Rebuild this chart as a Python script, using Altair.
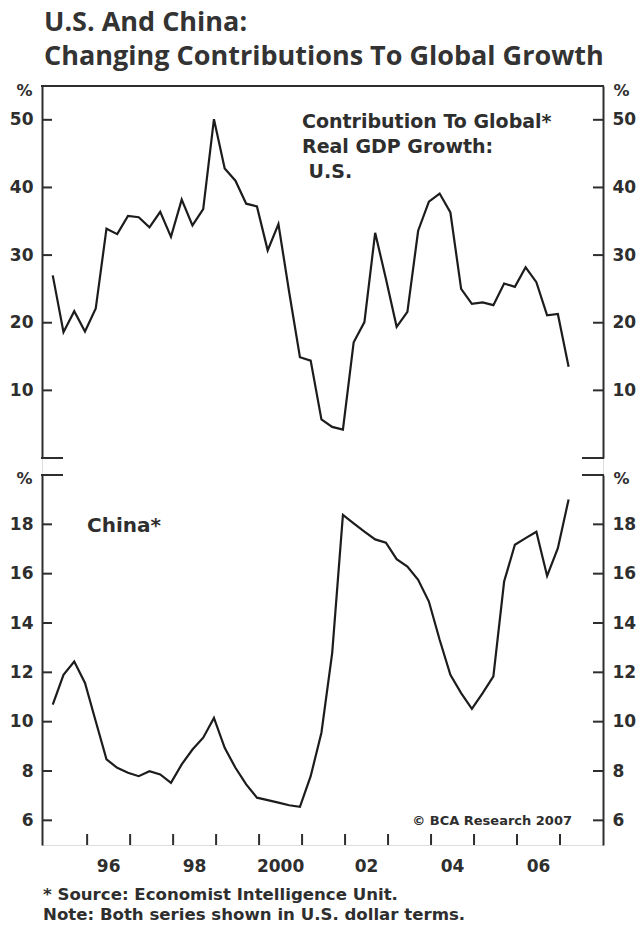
import altair as alt
import pandas as pd

# ---------------- data ----------------
quarters = [f"{y}Q{q}" for y in range(1995, 2008) for q in range(1, 5)][:49]

us_share = [
    27.0, 18.6, 21.7, 18.7,   # 1995
    22.1, 33.9, 33.1, 35.8,   # 1996
    35.6, 34.1, 36.4, 32.7,   # 1997
    38.2, 34.4, 36.8, 50.1,   # 1998
    42.8, 41.0, 37.6, 37.2,   # 1999
    30.7, 34.6, 24.5, 14.9,   # 2000
    14.4, 5.7, 4.6, 4.2,      # 2001
    17.1, 20.1, 33.3, 26.5,   # 2002
    19.4, 21.6, 33.6, 37.9,   # 2003
    39.1, 36.3, 25.0, 22.8,   # 2004
    23.0, 22.6, 25.8, 25.3,   # 2005
    28.2, 26.0, 21.1, 21.3,   # 2006
    13.5,                     # 2007
]

china_share = [
    10.69, 11.90, 12.44, 11.57,
    10.02, 8.47, 8.13, 7.93,
    7.79, 7.99, 7.86, 7.52,
    8.27, 8.87, 9.35, 10.15,
    8.94, 8.13, 7.46, 6.92,
    6.82, 6.72, 6.61, 6.55,
    7.79, 9.55, 12.78, 18.38,
    18.04, 17.70, 17.39, 17.26,
    16.59, 16.29, 15.75, 14.87,
    13.32, 11.90, 11.16, 10.52,
    11.16, 11.84, 15.68, 17.17,
    17.44, 17.70, 15.91, 17.03,
    19.01,
]

us_ticks = [10, 20, 30, 40, 50]
china_ticks = [6, 8, 10, 12, 14, 16, 18]
year_ticks = list(range(1996, 2008))
year_labels = [1996, 1998, 2000, 2002, 2004, 2006]
year_label_text = ["96", "98", "2000", "02", "04", "06"]

title_lines = ["U.S. And China:", "Changing Contributions To Global Growth"]
us_note = "Contribution To Global*\nReal GDP Growth:\n\u200b\u00a0U.S."
china_note = "China*"
copyright_note = "\u00a9 BCA Research 2007"
footnotes = "* Source: Economist Intelligence Unit.\nNote: Both series shown in U.S. dollar terms."


def qpos(q):
    y, n = q.split("Q")
    return int(y) + (int(n) - 1) * 0.25 + 0.2


df = pd.DataFrame({"t": [qpos(q) for q in quarters], "us": us_share, "china": china_share})

# ---------------- layout ----------------
W, H = 561, 759
TOP_H = 372
BOT_Y = 389
INK = "#2e2e2e"
LINE = "#1c1c1c"
FONT = "DejaVu Sans"

xscale = alt.Scale(domain=[1994.95, 2008.0], nice=False, zero=False)
us_scale = alt.Scale(domain=[0, 55], range=[TOP_H, 0], nice=False, zero=False)
cn_scale = alt.Scale(domain=[5, 20], range=[H, BOT_Y], nice=False, zero=False)


def yaxis(orient, values, title_y):
    right = orient == "right"
    return alt.Axis(
        orient=orient, values=values, ticks=False, labelPadding=9, grid=False,
        domain=True, domainColor=INK, domainWidth=2,
        labelFont=FONT, labelFontSize=17, labelFontWeight="bold", labelColor=INK,
        labelFlush=False, labelOverlap=False,
        title="%", titleAngle=0, titleAlign="left" if right else "right",
        titleBaseline="alphabetic", titleX=10 if right else -10, titleY=title_y,
        titleFont=FONT, titleFontSize=16, titleFontWeight="bold", titleColor=INK,
    )


def frame_rule(x0, x1, y0):
    return alt.Chart(pd.DataFrame({"k": [0]})).mark_rule(
        color=INK, strokeWidth=2, strokeCap="square"
    ).encode(x=alt.value(x0), x2=alt.value(x1), y=alt.value(y0))


def note(text, x, y, size, align="left", line_height=24):
    return alt.Chart(pd.DataFrame({"txt": [text]})).mark_text(
        font=FONT, fontSize=size, fontWeight="bold", color=INK, align=align,
        baseline="alphabetic", lineBreak="\n", lineHeight=line_height,
    ).encode(text="txt:N", x=alt.value(x), y=alt.value(y))


# ---------------- top panel: U.S. ----------------
us_line = alt.Chart(df).mark_line(color=LINE, strokeWidth=2.2).encode(
    x=alt.X("t:Q", scale=xscale, axis=None),
    y=alt.Y("us:Q", scale=us_scale, axis=None),
)
us_tick_df = pd.DataFrame({"v": us_ticks})
us_left = alt.Chart(us_tick_df).mark_rule(color=INK, strokeWidth=2).encode(
    y=alt.Y("v:Q", scale=us_scale, axis=yaxis("left", us_ticks, 9)),
    x=alt.value(0), x2=alt.value(10),
)
us_right = alt.Chart(us_tick_df).mark_rule(color=INK, strokeWidth=2).encode(
    y=alt.Y("v:Q", scale=us_scale, axis=yaxis("right", us_ticks, 9)),
    x=alt.value(W - 10), x2=alt.value(W),
)
top = alt.layer(
    us_left, us_right, us_line,
    frame_rule(0, W, 0),
    frame_rule(0, 20, TOP_H), frame_rule(W - 20, W, TOP_H),
    note(us_note, 260, 42, 19, line_height=25),
).resolve_axis(y="independent")

# ---------------- bottom panel: China ----------------
cn_line = alt.Chart(df).mark_line(color=LINE, strokeWidth=2.2).encode(
    x=alt.X(
        "t:Q", scale=xscale,
        axis=alt.Axis(
            orient="bottom", values=year_ticks, labels=False, ticks=False, grid=False,
            domain=True, domainColor=INK, domainWidth=2, title="",
        ),
    ),
    y=alt.Y("china:Q", scale=cn_scale, axis=None),
)
cn_tick_df = pd.DataFrame({"v": china_ticks})
cn_left = alt.Chart(cn_tick_df).mark_rule(color=INK, strokeWidth=2).encode(
    y=alt.Y("v:Q", scale=cn_scale, axis=yaxis("left", china_ticks, BOT_Y + 8)),
    x=alt.value(0), x2=alt.value(10),
)
cn_right = alt.Chart(cn_tick_df).mark_rule(color=INK, strokeWidth=2).encode(
    y=alt.Y("v:Q", scale=cn_scale, axis=yaxis("right", china_ticks, BOT_Y + 8)),
    x=alt.value(W - 10), x2=alt.value(W),
)
yr_ticks = alt.Chart(pd.DataFrame({"yr": year_ticks})).mark_rule(color=INK, strokeWidth=2).encode(
    x=alt.X("yr:Q", scale=xscale, axis=None),
    y=alt.value(H), y2=alt.value(H - 11),
)
yr_labels = alt.Chart(pd.DataFrame({"yr": year_labels, "lab": year_label_text})).transform_calculate(
    mid="datum.yr + 0.5"
).mark_text(
    font=FONT, fontSize=17, fontWeight="bold", color=INK, align="center", baseline="alphabetic",
).encode(
    x=alt.X("mid:Q", scale=xscale, axis=None),
    y=alt.value(H + 27),
    text="lab:N",
)
bottom = alt.layer(
    cn_left, cn_right, cn_line, yr_ticks, yr_labels,
    frame_rule(0, 20, BOT_Y), frame_rule(W - 20, W, BOT_Y),
    note(china_note, 45, 446, 20),
    note(copyright_note, 530, 739, 13, align="right"),
    note(footnotes, 1, 814, 16.6, line_height=20),
).resolve_axis(y="independent")

chart = alt.layer(top, bottom).resolve_scale(y="independent").properties(
    width=W, height=H,
    padding={"left": 42, "top": 86, "right": 34, "bottom": 81},
    autosize=alt.AutoSizeParams(type="none"),
    title=alt.TitleParams(
        text=title_lines, anchor="start", frame="group", font="Open Sans", fontSize=27,
        fontWeight="bold", color="#333333", lineHeight=34, offset=11, dx=2,
    ),
).configure_view(stroke=None).configure(background="white")

chart.save("out.html", embed_options={"renderer": "svg", "actions": False})
